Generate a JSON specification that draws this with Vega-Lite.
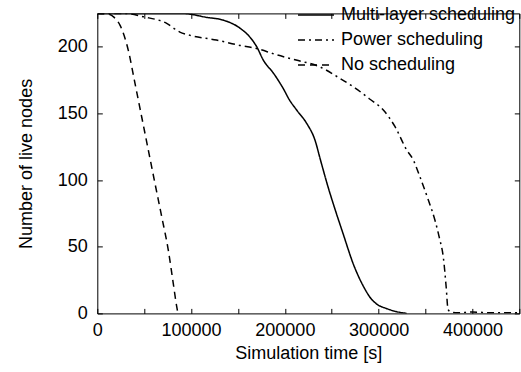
{
  "$schema": "https://vega.github.io/schema/vega-lite/v6.json",
  "width": 422,
  "height": 300,
  "autosize": {"type": "none"},
  "padding": {"left": 97.3, "top": 13.4, "right": 1.7, "bottom": 58.6},
  "config": {
    "font": "Liberation Sans",
    "view": {"stroke": "#000", "strokeWidth": 1},
    "axis": {
      "domain": false,
      "grid": false,
      "ticks": true,
      "tickColor": "#000",
      "tickSize": -5,
      "tickWidth": 1,
      "labelFont": "Liberation Sans",
      "labelFontSize": 18,
      "labelColor": "#000",
      "titleFont": "Liberation Sans",
      "titleFontSize": 18,
      "titleFontWeight": "normal",
      "titleColor": "#000",
      "labelOverlap": false,
      "labelFlush": false
    }
  },
  "data": {
    "values": [
      {"series": "Multi-layer scheduling", "t": 0, "n": 225},
      {"series": "Multi-layer scheduling", "t": 90000, "n": 225},
      {"series": "Multi-layer scheduling", "t": 117000, "n": 222},
      {"series": "Multi-layer scheduling", "t": 134000, "n": 220},
      {"series": "Multi-layer scheduling", "t": 152000, "n": 214},
      {"series": "Multi-layer scheduling", "t": 163000, "n": 207},
      {"series": "Multi-layer scheduling", "t": 170000, "n": 200},
      {"series": "Multi-layer scheduling", "t": 177000, "n": 190},
      {"series": "Multi-layer scheduling", "t": 188000, "n": 180},
      {"series": "Multi-layer scheduling", "t": 198000, "n": 169},
      {"series": "Multi-layer scheduling", "t": 205000, "n": 160},
      {"series": "Multi-layer scheduling", "t": 212600, "n": 152.5},
      {"series": "Multi-layer scheduling", "t": 223300, "n": 142.5},
      {"series": "Multi-layer scheduling", "t": 232100, "n": 130},
      {"series": "Multi-layer scheduling", "t": 238000, "n": 115},
      {"series": "Multi-layer scheduling", "t": 246000, "n": 95},
      {"series": "Multi-layer scheduling", "t": 254000, "n": 77},
      {"series": "Multi-layer scheduling", "t": 262000, "n": 60},
      {"series": "Multi-layer scheduling", "t": 273000, "n": 37},
      {"series": "Multi-layer scheduling", "t": 284000, "n": 20},
      {"series": "Multi-layer scheduling", "t": 292000, "n": 11},
      {"series": "Multi-layer scheduling", "t": 298000, "n": 7},
      {"series": "Multi-layer scheduling", "t": 309000, "n": 3.5},
      {"series": "Multi-layer scheduling", "t": 318000, "n": 1.5},
      {"series": "Multi-layer scheduling", "t": 330000, "n": 0},
      {"series": "Power scheduling", "t": 0, "n": 225},
      {"series": "Power scheduling", "t": 30000, "n": 225},
      {"series": "Power scheduling", "t": 49000, "n": 222.5},
      {"series": "Power scheduling", "t": 74000, "n": 217.5},
      {"series": "Power scheduling", "t": 88000, "n": 211},
      {"series": "Power scheduling", "t": 99000, "n": 208.5},
      {"series": "Power scheduling", "t": 127000, "n": 205},
      {"series": "Power scheduling", "t": 152000, "n": 201},
      {"series": "Power scheduling", "t": 168000, "n": 199},
      {"series": "Power scheduling", "t": 191000, "n": 194},
      {"series": "Power scheduling", "t": 212000, "n": 190},
      {"series": "Power scheduling", "t": 237000, "n": 185},
      {"series": "Power scheduling", "t": 257000, "n": 177},
      {"series": "Power scheduling", "t": 275000, "n": 169},
      {"series": "Power scheduling", "t": 290000, "n": 161},
      {"series": "Power scheduling", "t": 305000, "n": 152.5},
      {"series": "Power scheduling", "t": 317500, "n": 140},
      {"series": "Power scheduling", "t": 330000, "n": 122.5},
      {"series": "Power scheduling", "t": 337000, "n": 115},
      {"series": "Power scheduling", "t": 344000, "n": 102.5},
      {"series": "Power scheduling", "t": 353000, "n": 85},
      {"series": "Power scheduling", "t": 360000, "n": 70},
      {"series": "Power scheduling", "t": 365000, "n": 56},
      {"series": "Power scheduling", "t": 369000, "n": 42},
      {"series": "Power scheduling", "t": 372000, "n": 20},
      {"series": "Power scheduling", "t": 374000, "n": 3},
      {"series": "Power scheduling", "t": 377000, "n": 1},
      {"series": "Power scheduling", "t": 385000, "n": 0.5},
      {"series": "Power scheduling", "t": 400000, "n": 1},
      {"series": "Power scheduling", "t": 420000, "n": 0.5},
      {"series": "Power scheduling", "t": 450000, "n": 0.5},
      {"series": "No scheduling", "t": 0, "n": 225},
      {"series": "No scheduling", "t": 11700, "n": 224.5},
      {"series": "No scheduling", "t": 18000, "n": 222},
      {"series": "No scheduling", "t": 24300, "n": 216},
      {"series": "No scheduling", "t": 33000, "n": 197.5},
      {"series": "No scheduling", "t": 40200, "n": 172.5},
      {"series": "No scheduling", "t": 47300, "n": 147.5},
      {"series": "No scheduling", "t": 54400, "n": 122.5},
      {"series": "No scheduling", "t": 61500, "n": 97.5},
      {"series": "No scheduling", "t": 68700, "n": 72.5},
      {"series": "No scheduling", "t": 75700, "n": 47.5},
      {"series": "No scheduling", "t": 81000, "n": 22.5},
      {"series": "No scheduling", "t": 84700, "n": 5},
      {"series": "No scheduling", "t": 86000, "n": 0}
    ]
  },
  "layer": [
    {
      "mark": {"type": "line", "interpolate": "monotone", "strokeWidth": 1.5, "color": "#000", "clip": true},
      "encoding": {
        "x": {
          "field": "t", "type": "quantitative",
          "scale": {"domain": [0, 450000], "nice": false, "zero": false},
          "axis": {
            "title": "Simulation time [s]",
            "values": [0, 50000, 100000, 150000, 200000, 250000, 300000, 350000, 400000, 450000],
            "format": "d",
            "labelExpr": "datum.value % 100000 === 0 ? datum.label : ''",
            "labelPadding": 13,
            "titlePadding": 5
          }
        },
        "y": {
          "field": "n", "type": "quantitative",
          "scale": {"domain": [0, 225], "nice": false},
          "axis": {
            "title": "Number of live nodes",
            "values": [0, 50, 100, 150, 200],
            "labelPadding": 15,
            "titlePadding": 22
          }
        },
        "strokeDash": {
          "field": "series", "type": "nominal",
          "scale": {
            "domain": ["Multi-layer scheduling", "Power scheduling", "No scheduling"],
            "range": [[1, 0], [7, 4, 2, 4], [7, 5]]
          },
          "legend": {
            "orient": "none",
            "legendX": 208.7,
            "legendY": -8.5,
            "title": null,
            "padding": 0,
            "labelFontSize": 18,
            "labelFont": "Liberation Sans",
            "labelColor": "#000",
            "labelOffset": 15,
            "labelLimit": 400,
            "symbolType": "M-2,0H2",
            "symbolSize": 324,
            "symbolStrokeWidth": 1.5,
            "symbolStrokeColor": "#000",
            "symbolFillColor": "transparent",
            "rowPadding": 6
          }
        }
      }
    },
    {
      "mark": {"type": "line", "opacity": 0},
      "encoding": {
        "x": {
          "field": "t", "type": "quantitative",
          "axis": {"orient": "top", "title": null, "labels": false,
            "values": [0, 50000, 100000, 150000, 200000, 250000, 300000, 350000, 400000, 450000]}
        },
        "y": {
          "field": "n", "type": "quantitative",
          "axis": {"orient": "right", "title": null, "labels": false, "values": [0, 50, 100, 150, 200]}
        },
        "detail": {"field": "series"}
      }
    }
  ],
  "resolve": {"axis": {"x": "independent", "y": "independent"}}
}
